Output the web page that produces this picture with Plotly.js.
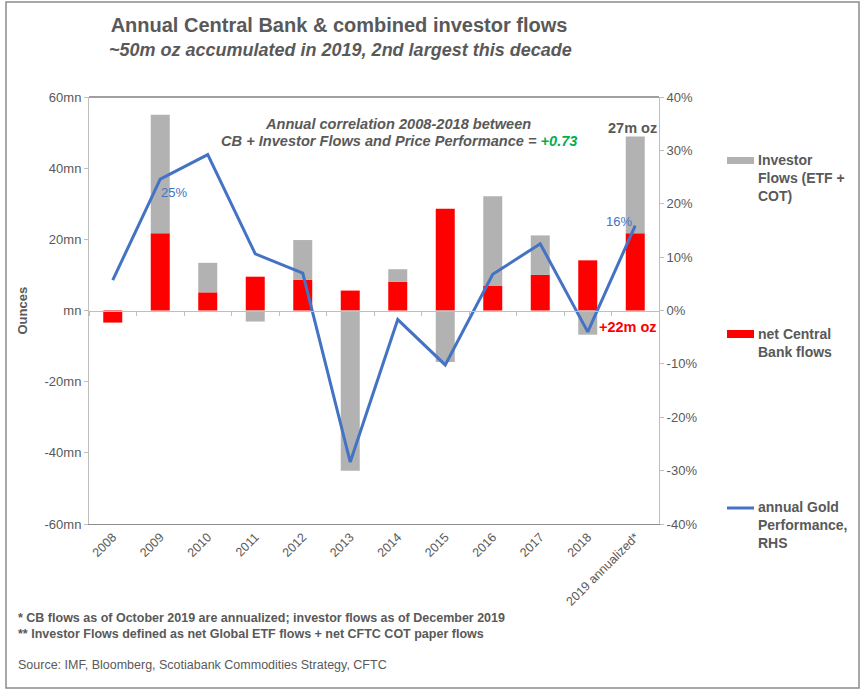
<!DOCTYPE html>
<html><head><meta charset="utf-8">
<script src="https://cdn.plot.ly/plotly-3.0.1.min.js"></script>
<style>html,body{margin:0;padding:0;background:#fff}#chart{width:866px;height:694px}</style>
</head><body><div id="chart"></div>
<script>
const years = ['2008','2009','2010','2011','2012','2013','2014','2015','2016','2017','2018','2019 annualized*'];
const cbFlows = [-3.4, 21.7, 5.1, 9.5, 8.6, 5.6, 8.1, 28.6, 6.9, 10.0, 14.1, 21.7];
const investorFlows = [0, 33.3, 8.3, -3.1, 11.2, -45.0, 3.5, -14.5, 25.2, 11.1, -6.8, 27.2];
const goldPerf = [5.7, 24.6, 29.2, 10.6, 7.0, -28.4, -1.7, -10.2, 6.8, 12.5, -4.0, 15.9];
const goldLabels = ['', '25%', '', '', '', '', '', '', '', '', '', '16%'];
const leftTicks = [-60, -40, -20, 0, 20, 40, 60];
const leftTickText = ['-60mn', '-40mn', '-20mn', 'mn', '20mn', '40mn', '60mn'];
const rightTicks = [-40, -30, -20, -10, 0, 10, 20, 30, 40];
const rightTickText = ['-40%', '-30%', '-20%', '-10%', '0%', '10%', '20%', '30%', '40%'];

const FONT = 'Liberation Sans, Arial, sans-serif';
const GREY = '#595959';
const AX = '#bfbfbf';

const traces = [
  {type:'bar', name:'net Central Bank flows', x:years, y:cbFlows,
   marker:{color:'#FF0000'}, showlegend:false, hoverinfo:'x+y'},
  {type:'bar', name:'Investor Flows (ETF + COT)', x:years, y:investorFlows,
   marker:{color:'#B2B2B2'}, showlegend:false, hoverinfo:'x+y'},
  {type:'scatter', mode:'lines', x:years, y:years.map(()=>null), xaxis:'x2', yaxis:'y',
   hoverinfo:'skip', showlegend:false},
  {type:'scatter', mode:'lines', name:'annual Gold Performance, RHS', x:years, y:goldPerf,
   yaxis:'y2', line:{color:'#4472C4', width:3}, showlegend:false}
];

// paper-coordinate helpers (plot area 89..659 x, 97..524 y)
const px = v => (v - 89) / 570;
const py = v => (524 - v) / 427;

// data labels on the gold line, placed from the data arrays (category index as x)
const lineLabels = [];
goldLabels.forEach((t, i) => {
  if (!t) return;
  const first = lineLabels.length === 0;
  lineLabels.push({xref:'x', yref:'y2', x:i, y:goldPerf[i], text:t, showarrow:false,
    xanchor: first ? 'left' : 'right', yanchor:'middle',
    xshift: first ? -1 : -1, yshift: first ? -13 : 4,
    font:{family:FONT, size:13, color:'#4472C4'}});
});

const layout = {
  width:866, height:694,
  margin:{l:89, r:207, t:97, b:170},
  paper_bgcolor:'#fff', plot_bgcolor:'#fff',
  font:{family:FONT, color:GREY, size:13},
  barmode:'relative', bargap:0.6,
  showlegend:false,
  title:{text:'<b>Annual Central Bank & combined investor flows</b>',
         font:{family:FONT, size:20, color:GREY},
         x:339/866, xanchor:'center', y:1-25/694, yanchor:'middle'},
  xaxis:{type:'category', range:[-0.5, 11.5], showline:true, linecolor:'#8c8c8c', linewidth:1,
         ticks:'', tickangle:-45, tickfont:{family:FONT, size:12.5, color:GREY},
         showgrid:false, zeroline:false, fixedrange:true},
  xaxis2:{type:'category', overlaying:'x', anchor:'free', position:0.5, range:[-0.5, 11.5],
          showline:true, linecolor:AX, linewidth:1, ticks:'outside', tickson:'boundaries',
          ticklen:4, tickcolor:AX, showticklabels:false, showgrid:false, zeroline:false},
  yaxis:{range:[-60, 60], tickvals:leftTicks, ticktext:leftTickText, showgrid:false,
         zeroline:false, showline:true, linecolor:AX, linewidth:1, ticks:'outside', ticklen:4,
         tickcolor:AX, tickfont:{family:FONT, size:13, color:GREY}},
  yaxis2:{overlaying:'y', side:'right', range:[-40, 40], tickvals:rightTicks, ticktext:rightTickText,
          showgrid:false, zeroline:false, showline:true, linecolor:AX, linewidth:1,
          ticks:'outside', ticklen:4, tickcolor:AX, tickfont:{family:FONT, size:13, color:GREY}},
  shapes:[
    {type:'line', xref:'paper', yref:'paper', x0:0, x1:1, y0:1, y1:1, line:{color:'#404040', width:1}},
    {type:'rect', xref:'paper', yref:'paper', x0:px(6), x1:px(859), y0:py(688), y1:py(2),
     line:{color:'#8c8c8c', width:1.5}, layer:'below'},
    {type:'rect', xref:'paper', yref:'paper', x0:px(727), x1:px(754), y0:py(164), y1:py(157),
     fillcolor:'#B2B2B2', line:{width:0}},
    {type:'rect', xref:'paper', yref:'paper', x0:px(727), x1:px(754), y0:py(338), y1:py(330),
     fillcolor:'#FF0000', line:{width:0}},
    {type:'line', xref:'paper', yref:'paper', x0:px(727), x1:px(754), y0:py(508), y1:py(508),
     line:{color:'#4472C4', width:3}}
  ],
  annotations:[
    {xref:'paper', yref:'paper', x:px(340), y:py(50), xanchor:'center', yanchor:'middle', showarrow:false,
     text:'<b><i>~50m oz accumulated in 2019, 2nd largest this decade</i></b>',
     font:{family:FONT, size:18, color:GREY}},
    {xref:'paper', yref:'paper', x:px(398), y:py(124), xanchor:'center', yanchor:'middle', showarrow:false,
     text:'<b><i>Annual correlation 2008-2018 between</i></b>',
     font:{family:FONT, size:14.6, color:GREY}},
    {xref:'paper', yref:'paper', x:px(399), y:py(140.5), xanchor:'center', yanchor:'middle', showarrow:false,
     text:'<b><i>CB + Investor Flows and Price Performance = <span style="color:#00B050">+0.73</span></i></b>',
     font:{family:FONT, size:14.6, color:GREY}},
    {xref:'paper', yref:'y', x:1, y:51.4, xanchor:'right', yanchor:'middle', showarrow:false,
     text:'<b>27m oz</b>', font:{family:FONT, size:14.5, color:GREY}},
    {xref:'paper', yref:'y', x:1, y:-4.6, xanchor:'right', yanchor:'middle', showarrow:false,
     text:'<b>+22m oz</b>', font:{family:FONT, size:14.5, color:'#FF0000'}},
    {xref:'paper', yref:'paper', x:px(22), y:0.5, xanchor:'center', yanchor:'middle', showarrow:false,
     textangle:-90, text:'<b>Ounces</b>', font:{family:FONT, size:13, color:GREY}},
    {xref:'paper', yref:'paper', x:px(756), y:py(177.7), xanchor:'left', yanchor:'middle', showarrow:false,
     align:'left', text:'<b>Investor<br>Flows (ETF +<br>COT)</b>', font:{family:FONT, size:14, color:GREY}},
    {xref:'paper', yref:'paper', x:px(756), y:py(342.8), xanchor:'left', yanchor:'middle', showarrow:false,
     align:'left', text:'<b>net Central<br>Bank flows</b>', font:{family:FONT, size:14, color:GREY}},
    {xref:'paper', yref:'paper', x:px(756), y:py(524.7), xanchor:'left', yanchor:'middle', showarrow:false,
     align:'left', text:'<b>annual Gold<br>Performance,<br>RHS</b>', font:{family:FONT, size:14, color:GREY}},
    {xref:'paper', yref:'paper', x:px(16), y:py(618.3), xanchor:'left', yanchor:'middle', showarrow:false,
     text:'<b>* CB flows as of October 2019 are annualized; investor flows as of December 2019</b>',
     font:{family:FONT, size:12.5, color:GREY}},
    {xref:'paper', yref:'paper', x:px(16), y:py(634), xanchor:'left', yanchor:'middle', showarrow:false,
     text:'<b>** Investor Flows defined as net Global ETF flows + net CFTC COT paper flows</b>',
     font:{family:FONT, size:12.5, color:GREY}},
    {xref:'paper', yref:'paper', x:px(16), y:py(665), xanchor:'left', yanchor:'middle', showarrow:false,
     text:'Source: IMF, Bloomberg, Scotiabank Commodities Strategy, CFTC',
     font:{family:FONT, size:12.5, color:GREY}}
  ].concat(lineLabels)
};

Plotly.newPlot('chart', traces, layout, {displayModeBar:false, staticPlot:true});
</script></body></html>
